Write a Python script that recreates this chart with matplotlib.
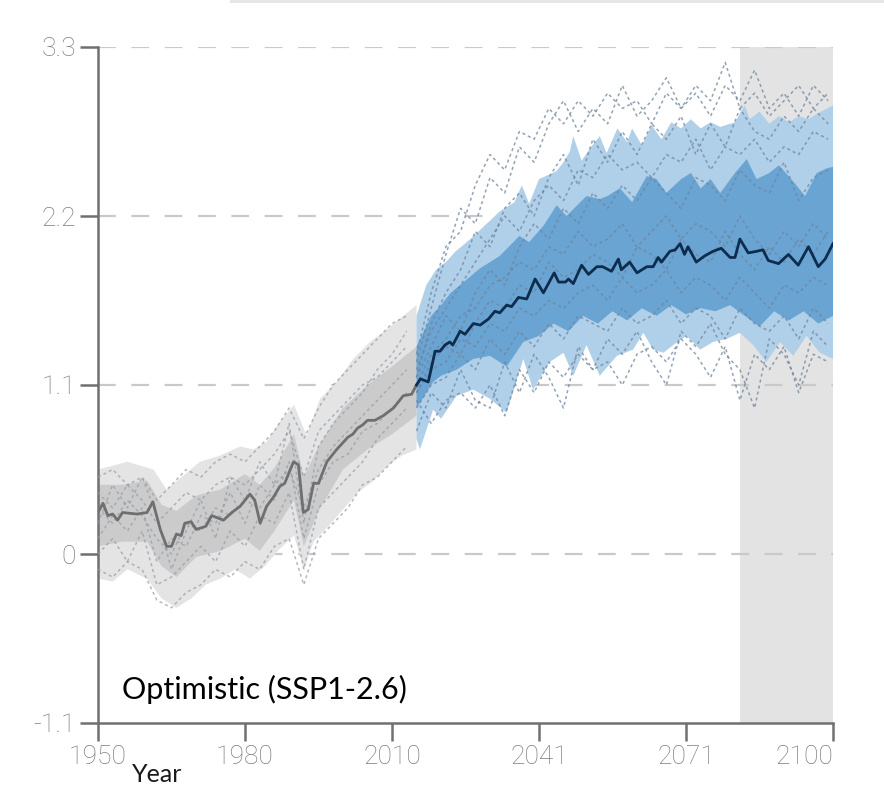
import numpy as np
import matplotlib.pyplot as plt
from matplotlib.patches import Rectangle

# historical ensemble mean (smoothed), 1950-2015
hist_yr = [1950, 1951, 1952, 1953, 1954, 1955, 1958, 1960, 1961.2, 1962.7,
           1964, 1965, 1966, 1967, 1967.7, 1969, 1970, 1972, 1973.2, 1975.6,
           1977.3, 1979, 1981, 1982, 1983.1, 1984.4, 1985.8, 1987.1, 1988.1, 1989.9,
           1990.9, 1991.9, 1992.9, 1994, 1995, 1996.7, 1998.7, 2001, 2002, 2003,
           2004, 2005, 2006.5, 2008.2, 2010.3, 2012.3, 2014, 2015]
hist_avg = [0.27, 0.33, 0.25, 0.26, 0.22, 0.27, 0.26, 0.27, 0.34, 0.16,
            0.05, 0.05, 0.13, 0.12, 0.20, 0.21, 0.16, 0.18, 0.25, 0.22,
            0.27, 0.31, 0.39, 0.35, 0.20, 0.31, 0.37, 0.44, 0.46, 0.60,
            0.58, 0.27, 0.29, 0.46, 0.46, 0.60, 0.68, 0.76, 0.78, 0.82,
            0.84, 0.87, 0.87, 0.90, 0.95, 1.03, 1.04, 1.10]

# SSP1-2.6 ensemble mean, 2015-2100
fut_yr = [2015, 2015.8, 2017.4, 2018.8, 2019.8, 2020.8, 2021.8, 2022.4, 2023.9, 2024.9,
          2026.6, 2028, 2029.7, 2031, 2032, 2033.4, 2034.4, 2035.8, 2037.5, 2039.2,
          2040.9, 2043.1, 2044, 2045.4, 2046, 2047, 2048.7, 2050.1, 2051.8, 2053,
          2054.8, 2056.2, 2056.8, 2058.5, 2060, 2062, 2063.3, 2064.3, 2065, 2066.7,
          2067.8, 2068.8, 2069.7, 2070.4, 2072.1, 2073.8, 2075.5, 2077.2, 2079, 2080,
          2081, 2082.7, 2084.4, 2085.7, 2086.8, 2088.9, 2090.9, 2092.9, 2095, 2097,
          2098.4, 2100]
fut_avg = [1.10, 1.14, 1.12, 1.32, 1.32, 1.36, 1.38, 1.36, 1.45, 1.43,
           1.50, 1.49, 1.53, 1.58, 1.57, 1.62, 1.61, 1.67, 1.66, 1.79,
           1.70, 1.83, 1.77, 1.77, 1.79, 1.76, 1.88, 1.82, 1.87, 1.87,
           1.84, 1.92, 1.85, 1.90, 1.83, 1.87, 1.87, 1.93, 1.90, 1.97,
           1.98, 2.02, 1.95, 2.00, 1.90, 1.94, 1.97, 1.99, 1.93, 1.93,
           2.05, 1.96, 1.97, 1.98, 1.91, 1.89, 1.95, 1.88, 2.00, 1.87,
           1.92, 2.02]

# future outer range (light blue)
lt_up_yr = [2015, 2017, 2019, 2021, 2023, 2026, 2029, 2032, 2035, 2036.5,
            2038, 2040, 2043.5, 2045, 2046.3, 2047, 2048.7, 2050.4, 2052.4, 2053.8,
            2056, 2058, 2059, 2061, 2063, 2065, 2067, 2069, 2071, 2073,
            2075, 2077, 2080, 2082, 2083, 2085, 2087, 2089, 2091, 2093,
            2095, 2097, 2100]
lt_up = [1.55, 1.75, 1.85, 1.90, 1.97, 2.05, 2.14, 2.23, 2.29, 2.40,
         2.28, 2.44, 2.49, 2.55, 2.62, 2.72, 2.56, 2.64, 2.72, 2.61,
         2.77, 2.68, 2.77, 2.66, 2.79, 2.70, 2.81, 2.77, 2.83, 2.77,
         2.81, 2.78, 2.81, 2.92, 2.83, 2.88, 2.80, 2.85, 2.81, 2.85,
         2.83, 2.87, 2.92]
lt_lo_yr = [2015, 2015.7, 2018.4, 2020, 2023.2, 2026.6, 2030, 2033.4, 2036.8, 2038.8,
            2042.2, 2045, 2047, 2049.7, 2052.4, 2055.9, 2059.2, 2061.3, 2063.3, 2065.4,
            2067.4, 2070.1, 2072.9, 2075.5, 2078.3, 2081, 2083.7, 2086.4, 2089.2, 2091.9,
            2094.6, 2097.3, 2100]
lt_lo = [0.75, 0.68, 0.94, 0.88, 1.03, 1.07, 1.01, 0.92, 1.27, 1.07,
         1.25, 1.31, 1.16, 1.36, 1.16, 1.29, 1.33, 1.44, 1.33, 1.31,
         1.36, 1.42, 1.33, 1.38, 1.40, 1.44, 1.36, 1.25, 1.38, 1.29,
         1.42, 1.31, 1.27]

# future inner range (medium blue)
md_up_yr = [2015, 2018, 2020, 2022, 2025, 2028, 2030, 2032, 2036, 2038,
            2041, 2043.6, 2045.6, 2049.7, 2052.4, 2054, 2056.5, 2059, 2062, 2064,
            2066, 2069, 2071, 2073, 2075, 2077, 2080, 2082.4, 2084.4, 2087,
            2089, 2092, 2094.3, 2096.7, 2098.7, 2100]
md_up = [1.35, 1.55, 1.62, 1.70, 1.78, 1.86, 1.90, 1.94, 2.07, 2.03,
         2.14, 2.27, 2.20, 2.33, 2.31, 2.33, 2.38, 2.29, 2.46, 2.44,
         2.35, 2.44, 2.48, 2.38, 2.44, 2.35, 2.48, 2.57, 2.44, 2.48,
         2.53, 2.42, 2.33, 2.48, 2.51, 2.52]
md_lo_yr = [2015, 2018.4, 2020, 2023.2, 2026.6, 2030, 2033.4, 2036.8, 2040, 2043,
            2046, 2049, 2052, 2055, 2058, 2061, 2064, 2067, 2070, 2073,
            2076, 2079, 2082, 2085, 2088, 2091, 2094, 2097, 2100]
md_lo = [0.95, 1.12, 1.16, 1.20, 1.27, 1.29, 1.22, 1.38, 1.42, 1.50,
         1.45, 1.55, 1.50, 1.58, 1.52, 1.60, 1.55, 1.62, 1.56, 1.60,
         1.58, 1.62, 1.55, 1.48, 1.58, 1.52, 1.58, 1.50, 1.55]

# historical ranges (grey)
gr_up_yr = [1950, 1956, 1961.3, 1964, 1967.4, 1970.8, 1974.9, 1979, 1981.7, 1984.4,
            1987.1, 1990, 1992.6, 1995.3, 1998.7, 2002.1, 2005.5, 2008.9, 2012.3, 2015]
gr_up = [0.55, 0.60, 0.55, 0.42, 0.51, 0.60, 0.64, 0.70, 0.68, 0.73,
         0.86, 0.97, 0.77, 1.01, 1.12, 1.27, 1.38, 1.46, 1.55, 1.62]
gr_lo_yr = [1950, 1953, 1956, 1960, 1963, 1966, 1969, 1972, 1975, 1978,
            1981, 1984, 1987, 1990, 1992, 1994, 1997, 2000, 2003, 2006,
            2009, 2012, 2015]
gr_lo = [-0.16, -0.18, -0.10, -0.16, -0.29, -0.35, -0.29, -0.20, -0.16, -0.10,
         -0.16, -0.08, 0.03, 0.12, -0.10, 0.08, 0.18, 0.29, 0.40, 0.47,
         0.57, 0.64, 0.68]
gi_yr = [1950, 1955, 1960, 1963, 1966, 1970, 1975, 1980, 1983, 1986,
         1990, 1992, 1995, 2000, 2005, 2010, 2015]
gi_up = [0.45, 0.45, 0.48, 0.32, 0.28, 0.38, 0.42, 0.52, 0.45, 0.56,
         0.78, 0.50, 0.70, 0.95, 1.10, 1.22, 1.35]
gi_lo = [0.05, 0.08, 0.08, -0.08, -0.15, -0.02, 0.02, 0.10, 0.02, 0.15,
         0.35, 0.05, 0.28, 0.55, 0.68, 0.78, 0.90]

# a few individual model runs (every 3 years)
run_hist_yr = np.arange(1950, 2016, 3)
runs_hist = [
    [0.50, 0.55, 0.45, 0.50, 0.35, 0.45, 0.55, 0.50, 0.60, 0.65, 0.60, 0.70, 0.80, 0.95, 0.75, 0.95, 1.10, 1.20, 1.30, 1.40, 1.50, 1.55],
    [-0.10, -0.15, -0.05, -0.10, -0.30, -0.35, -0.25, -0.20, -0.10, -0.15, -0.05, -0.10, 0.05, 0.10, -0.20, 0.10, 0.20, 0.30, 0.45, 0.50, 0.60, 0.70],
    [0.30, 0.20, 0.35, 0.25, 0.10, 0.00, 0.20, 0.15, 0.30, 0.25, 0.35, 0.30, 0.45, 0.55, 0.30, 0.55, 0.70, 0.80, 0.90, 1.00, 1.10, 1.20],
    [0.10, 0.25, 0.15, 0.30, -0.05, 0.10, 0.05, 0.25, 0.20, 0.40, 0.20, 0.45, 0.35, 0.60, 0.10, 0.45, 0.60, 0.65, 0.80, 0.85, 0.95, 1.05],
    [0.40, 0.30, 0.45, 0.35, 0.20, 0.30, 0.40, 0.35, 0.45, 0.50, 0.45, 0.55, 0.65, 0.80, 0.50, 0.80, 0.90, 1.00, 1.10, 1.15, 1.25, 1.35],
    [0.20, 0.45, 0.30, 0.50, 0.25, -0.10, 0.15, 0.35, 0.10, 0.50, 0.35, 0.60, 0.45, 0.85, 0.20, 0.70, 0.85, 0.95, 1.05, 1.20, 1.30, 1.45],
    [0.00, 0.10, -0.05, 0.15, -0.20, -0.15, -0.05, 0.05, -0.05, 0.15, 0.05, 0.25, 0.20, 0.40, -0.10, 0.30, 0.40, 0.50, 0.60, 0.75, 0.85, 0.95],
]
run_fut_yr = np.arange(2015, 2101, 3)
runs_fut = [
    [1.30, 1.70, 2.00, 2.10, 2.40, 2.60, 2.50, 2.75, 2.70, 2.90, 2.80, 2.95, 2.85, 3.00, 2.90, 2.95, 2.80, 3.00, 2.90, 3.05, 2.95, 3.20, 2.90, 3.00, 2.85, 2.95, 3.05, 2.90, 3.00],
    [1.00, 0.85, 1.00, 1.05, 0.95, 1.10, 0.90, 1.20, 1.05, 1.25, 1.15, 1.30, 1.20, 1.25, 1.10, 1.30, 1.35, 1.25, 1.40, 1.30, 1.15, 1.35, 1.00, 1.30, 1.20, 1.35, 1.05, 1.30, 1.25],
    [1.20, 1.45, 1.60, 1.75, 1.90, 2.05, 2.20, 2.10, 2.30, 2.40, 2.30, 2.50, 2.45, 2.60, 2.50, 2.55, 2.45, 2.60, 2.55, 2.70, 2.50, 2.65, 2.60, 2.70, 2.55, 2.65, 2.60, 2.75, 2.70],
    [1.10, 1.30, 1.40, 1.55, 1.60, 1.75, 1.80, 1.90, 1.85, 2.00, 1.95, 2.10, 2.00, 2.05, 2.15, 2.00, 2.10, 2.20, 2.05, 2.15, 2.10, 2.00, 2.20, 2.05, 1.95, 2.10, 2.00, 2.15, 2.05],
    [1.05, 1.20, 1.25, 1.40, 1.35, 1.50, 1.45, 1.60, 1.55, 1.65, 1.60, 1.70, 1.75, 1.65, 1.80, 1.70, 1.75, 1.85, 1.70, 1.80, 1.75, 1.65, 1.80, 1.70, 1.60, 1.75, 1.70, 1.80, 1.75],
    [1.15, 1.50, 1.70, 1.85, 2.10, 2.00, 2.25, 2.35, 2.20, 2.45, 2.60, 2.40, 2.70, 2.55, 2.75, 2.60, 2.80, 2.70, 2.85, 2.60, 2.80, 2.65, 2.90, 2.75, 2.70, 2.85, 2.75, 2.90, 2.80],
    [0.95, 1.10, 1.15, 1.30, 1.20, 1.40, 1.30, 1.45, 1.35, 1.50, 1.40, 1.55, 1.50, 1.45, 1.60, 1.50, 1.55, 1.65, 1.50, 1.60, 1.55, 1.40, 1.60, 1.50, 1.45, 1.55, 1.40, 1.60, 1.50],
    [1.25, 1.60, 1.95, 2.25, 2.15, 2.45, 2.35, 2.65, 2.55, 2.80, 2.95, 2.75, 2.90, 2.80, 3.05, 2.85, 2.95, 3.10, 2.90, 3.00, 2.85, 3.05, 2.95, 3.15, 2.90, 3.00, 2.85, 3.05, 2.95],
    [0.80, 1.05, 0.95, 1.20, 1.00, 0.95, 1.25, 1.05, 1.30, 1.15, 0.95, 1.35, 1.20, 1.40, 1.30, 1.45, 1.25, 1.10, 1.45, 1.35, 1.50, 1.30, 1.20, 0.95, 1.40, 1.30, 1.10, 1.45, 1.35],
    [1.15, 1.35, 1.55, 1.45, 1.70, 1.85, 1.75, 2.00, 2.15, 2.05, 2.25, 2.15, 2.35, 2.25, 2.40, 2.30, 2.45, 2.35, 2.25, 2.45, 2.40, 2.30, 2.50, 2.40, 2.35, 2.55, 2.30, 2.45, 2.50],
    [1.05, 1.25, 1.35, 1.30, 1.50, 1.65, 1.60, 1.75, 1.70, 1.90, 1.80, 1.85, 1.95, 1.90, 1.80, 2.00, 1.95, 1.85, 2.05, 1.95, 1.90, 2.10, 1.95, 1.85, 2.00, 1.90, 2.05, 1.95, 2.10],
]

y_ticks = [-1.1, 0, 1.1, 2.2, 3.3]
y_labels = ['-1.1', '0', '1.1', '2.2', '3.3']
x_ticks = [1950, 1980, 2010, 2040, 2070, 2100]
x_labels = ['1950', '1980', '2010', '2041', '2071', '2100']


def band(ax, x_up, y_up, x_lo, y_lo, color, z):
    xs = np.concatenate([x_up, x_lo[::-1]])
    ys = np.concatenate([y_up, y_lo[::-1]])
    ax.fill(xs, ys, color=color, lw=0, zorder=z)


fig = plt.figure(figsize=(8.84, 7.93), dpi=100)
fig.patches.append(Rectangle((230 / 884, 1 - 3 / 793), 1, 3 / 793,
                             transform=fig.transFigure, color='#e6e6e6', lw=0))
ax = fig.add_axes([98 / 884, 1 - 723 / 793, 735 / 884, 676 / 793])

ax.axvspan(2081, 2100, color='#e3e3e3', lw=0, zorder=0)
for v in [0, 1.1, 2.2, 3.3]:
    ax.axhline(v, color='#c9c9c9', lw=1.6, dashes=(8, 7), zorder=1)

band(ax, np.array(gr_up_yr), np.array(gr_up), np.array(gr_lo_yr), np.array(gr_lo), '#e4e4e4', 2)
band(ax, np.array(gi_yr), np.array(gi_up), np.array(gi_yr), np.array(gi_lo), '#cbcbcb', 2.1)
band(ax, np.array(lt_up_yr), np.array(lt_up), np.array(lt_lo_yr), np.array(lt_lo), '#b0cfe8', 2)
band(ax, np.array(md_up_yr), np.array(md_up), np.array(md_lo_yr), np.array(md_lo), '#69a4d2', 2.1)

for r in runs_hist:
    ax.plot(run_hist_yr, r, color='#939ca8', lw=1.1, ls=(0, (2, 2)), alpha=0.7, zorder=3)
for r in runs_fut:
    ax.plot(run_fut_yr, r, color='#6f849e', lw=1.1, ls=(0, (2, 2)), alpha=0.75, zorder=3)

ax.plot(hist_yr, hist_avg, color='#6f6f6f', lw=2, zorder=4)
ax.plot(fut_yr, fut_avg, color='#0e2c4d', lw=2, zorder=4)

ax.set_xlim(1950, 2100)
ax.set_ylim(-1.1, 3.3)
for s in ['top', 'right']:
    ax.spines[s].set_visible(False)
for s in ['left', 'bottom']:
    ax.spines[s].set_color('#707070')
    ax.spines[s].set_linewidth(1.8)
ax.tick_params(length=13, width=1.8, color='#707070', labelcolor='#7d7d7d',
               labelsize=19, pad=3)
ax.set_yticks(y_ticks)
ax.set_yticklabels(y_labels, family='Roboto', weight='light')
ax.set_xticks(x_ticks)
ax.set_xticklabels(x_labels, family='Roboto', weight='light')
ax.get_xticklabels()[-1].set_ha('right')

fig.text(132 / 884, 1 - 774 / 793, 'Year', family='Lato', fontsize=18,
         color='#1a1a1a', va='center', ha='left')
ax.text(1954.8, -0.88, 'Optimistic (SSP1-2.6)', family='Lato', fontsize=22,
        color='#000000', va='center', ha='left')

fig.savefig('out.png', dpi=100)
